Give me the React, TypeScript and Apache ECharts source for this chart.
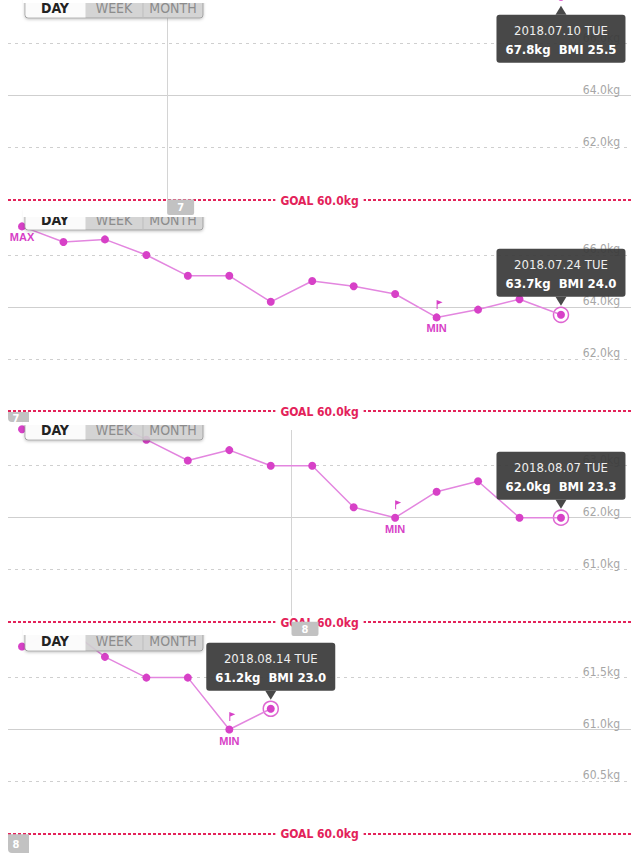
import React, { useEffect, useRef } from "react";
import * as echarts from "echarts";

// ---------------- data ----------------
const days1 = ["06.27", "06.28", "06.29", "06.30", "07.01", "07.02", "07.03", "07.04", "07.05", "07.06", "07.07", "07.08", "07.09", "07.10"];
const weights1: (number | null)[] = [null, null, null, null, null, null, null, null, null, null, null, null, null, 67.8];
const days2 = ["07.11", "07.12", "07.13", "07.14", "07.15", "07.16", "07.17", "07.18", "07.19", "07.20", "07.21", "07.22", "07.23", "07.24"];
const weights2 = [67.1, 66.5, 66.6, 66.0, 65.2, 65.2, 64.2, 65.0, 64.8, 64.5, 63.6, 63.9, 64.3, 63.7];
const days3 = ["07.25", "07.26", "07.27", "07.28", "07.29", "07.30", "07.31", "08.01", "08.02", "08.03", "08.04", "08.05", "08.06", "08.07"];
const weights3 = [63.7, 64.0, 63.9, 63.5, 63.1, 63.3, 63.0, 63.0, 62.2, 62.0, 62.5, 62.7, 62.0, 62.0];
const days4 = ["08.08", "08.09", "08.10", "08.11", "08.12", "08.13", "08.14"];
const weights4 = [61.8, 62.0, 61.7, 61.5, 61.5, 61.0, 61.2];

const ticks1 = [60, 62, 64, 66];
const ticks2 = [60, 62, 64, 66];
const ticks3 = [60, 61, 62, 63];
const ticks4 = [60, 60.5, 61, 61.5];
const goalWeight = 60;

const selDates = ["2018.07.10 TUE", "2018.07.24 TUE", "2018.08.07 TUE", "2018.08.14 TUE"];
const selWeights = [67.8, 63.7, 62.0, 61.2];
const selBmi = [25.5, 24.0, 23.3, 23.0];
const selIndex = [13, 13, 13, 6];

// month boundaries (between day indices) and sticky month tabs
const monthBreakAt = [3.5, null, 6.5, null];
const monthBreakLabel = ["7", "", "8", ""];
const stickyMonth = ["", "7", "", "8"];
const showMax = [false, true, false, false];

const allDays = [days1, days2, days3, days4];
const allWeights = [weights1, weights2, weights3, weights4];
const allTicks = [ticks1, ticks2, ticks3, ticks4];

// ---------------- layout / style ----------------
const FONT = '"Liberation Sans Narrow", "DejaVu Sans Condensed", Roboto, sans-serif';
const BOLDFONT = '"Liberation Sans", Arial, sans-serif';
const DOT = "#d741c7";
const LINE = "#e386df";
const RED = "#e3225a";
const GRID_GRAY = "#cfcfcf";
const LABEL_GRAY = "#a6a6a6";
const BOX = "rgba(58,58,58,0.93)";

const X0 = 22;
const STEP = 41.46;
const LEFT = 8;
const RIGHT = 631;
// the chart canvas starts OFFSET px above the page so that panel 1 can extend above the view
const OFFSET = 24;
const py = (y: number) => y + OFFSET;

// page-pixel layout of the four stacked panels
const LAYOUT = [
  { top: -24, bottom: 214, goalY: 199.5, pxPerKg: 26, ctrlTop: 0, ctrlBottom: 18, monthTopY: -24, tabExtra: 1 },
  { top: 214, bottom: 422, goalY: 411, pxPerKg: 26, ctrlTop: 214, ctrlBottom: 230, monthTopY: 214, tabExtra: 0 },
  { top: 422, bottom: 632, goalY: 621.7, pxPerKg: 52, ctrlTop: 422, ctrlBottom: 440, monthTopY: 430, tabExtra: 4 },
  { top: 632, bottom: 853, goalY: 833.3, pxPerKg: 103.8, ctrlTop: 632, ctrlBottom: 651, monthTopY: 632, tabExtra: 0 },
];

function buildOption() {
  const grid: any[] = [];
  const xAxis: any[] = [];
  const yAxis: any[] = [];
  const series: any[] = [];
  const graphic: any[] = [];

  LAYOUT.forEach((l, i) => {
    const yMax = goalWeight + (l.goalY - l.top) / l.pxPerKg;
    const yMin = goalWeight - (l.bottom - l.goalY) / l.pxPerKg;
    grid.push({ left: LEFT, width: RIGHT - LEFT, top: py(l.top), height: l.bottom - l.top });
    xAxis.push({ type: "value", gridIndex: i, min: (LEFT - X0) / STEP, max: (RIGHT - X0) / STEP, show: false });
    yAxis.push({ type: "value", gridIndex: i, min: yMin, max: yMax, show: false });

    const ticks = allTicks[i];
    const mlData: any[] = [];
    ticks.forEach((t, k) => {
      if (t === goalWeight) return;
      mlData.push({
        yAxis: t,
        lineStyle: { color: GRID_GRAY, width: 1, type: k === 2 ? "solid" : [3, 4] },
        label: {
          show: true, position: "insideEndTop", formatter: `${t.toFixed(1)}kg`,
          color: LABEL_GRAY, fontSize: 12, fontFamily: FONT, distance: [11, 0],
        },
      });
    });
    mlData.push({
      yAxis: goalWeight,
      lineStyle: { color: RED, width: 2, type: [3, 2] },
      label: {
        show: true, position: "middle", formatter: `GOAL ${goalWeight.toFixed(1)}kg`,
        color: RED, fontWeight: "bold", fontSize: 12, fontFamily: FONT,
        backgroundColor: "#fff", padding: [1, 5], distance: [0, -8],
      },
    });
    mlData.push({
      yAxis: goalWeight,
      lineStyle: { opacity: 0, width: 0 },
      label: {
        show: true, position: "insideEndTop", formatter: `${goalWeight.toFixed(1)}kg`,
        color: LABEL_GRAY, fontSize: 12, fontFamily: FONT, distance: [11, 0],
      },
    });
    const mb = monthBreakAt[i];
    if (mb !== null) {
      const topVal = goalWeight + (l.goalY - l.monthTopY) / l.pxPerKg;
      mlData.push([
        { coord: [mb, topVal], lineStyle: { color: "#d4d4d4", width: 1, type: "solid" }, label: { show: false } },
        { coord: [mb, goalWeight] },
      ]);
    }

    const mpData: any[] = [];
    if (i > 0) {
      if (showMax[i]) {
        mpData.push({
          type: "max", symbol: "circle", symbolSize: 1, itemStyle: { color: "rgba(0,0,0,0)" },
          label: { show: true, position: "bottom", distance: 5, formatter: "MAX", color: DOT, fontWeight: "bold", fontSize: 11, fontFamily: BOLDFONT },
        });
      }
      mpData.push({
        type: "min", symbol: "circle", symbolSize: 1, itemStyle: { color: "rgba(0,0,0,0)" },
        label: { show: true, position: "bottom", distance: 5, formatter: "MIN", color: DOT, fontWeight: "bold", fontSize: 11, fontFamily: BOLDFONT },
      });
      mpData.push({
        type: "min", symbol: "path://M0,0L6,2.5L1,5L1,10L0,10Z", symbolSize: [6, 9], symbolOffset: [3, -13],
        itemStyle: { color: DOT }, label: { show: false },
      });
    }

    series.push({
      type: "line", name: `panel${i + 1}`, xAxisIndex: i, yAxisIndex: i, clip: true, z: 3, silent: true,
      data: allWeights[i].map((v, j) => ({ name: allDays[i][j], value: [j, v] })),
      symbol: "circle", symbolSize: 8, showSymbol: true, connectNulls: false,
      itemStyle: { color: DOT }, lineStyle: { color: LINE, width: 1.5 },
      markLine: { silent: true, symbol: "none", z: 1, data: mlData },
      markPoint: { silent: true, data: mpData },
    });

    const above = i > 0;
    const sx = selIndex[i];
    const sw = selWeights[i];
    series.push({
      type: "scatter", name: `selected${i + 1}`, xAxisIndex: i, yAxisIndex: i, clip: false, z: 2, silent: true,
      data: [[sx, sw]],
      symbol: "circle", symbolSize: above ? 15 : 0,
      itemStyle: { color: "#fff", borderColor: DOT, borderWidth: 1.5 },
      markPoint: {
        silent: true, z: 8,
        data: [{
          coord: [sx, sw],
          symbol: above ? "path://M0,0L10,0L5,9Z" : "path://M5,0L10,9L0,9Z",
          symbolSize: [11, 9], symbolOffset: [0, above ? -13.5 : 13.5],
          itemStyle: { color: BOX },
          label: {
            show: true, position: above ? "top" : "bottom", distance: 0,
            formatter: `{d|${selDates[i]}}\n{w|${sw.toFixed(1)}kg\u00a0\u00a0BMI ${selBmi[i].toFixed(1)}}`,
            backgroundColor: BOX, borderRadius: 3, padding: [6, 0, 4, 0], width: 129, align: "center",
            rich: {
              d: { fontSize: 13, lineHeight: 19, color: "#eeeeee", fontFamily: FONT, align: "center" },
              w: { fontSize: 13, lineHeight: 19, color: "#ffffff", fontWeight: "bold", fontFamily: FONT, align: "center" },
            },
          },
        }],
      },
    });

    // DAY / WEEK / MONTH control
    const B = py(l.ctrlBottom);
    const T = py(l.ctrlTop) - 6;
    graphic.push({
      type: "group", z: 50, children: [
        { type: "rect", z: 50, shape: { x: 25, y: T, width: 178, height: B - T, r: 3 },
          style: { fill: "#d3d3d3", stroke: "#9c9c9c", lineWidth: 1, opacity: 0.88, shadowBlur: 3, shadowColor: "rgba(0,0,0,0.25)", shadowOffsetY: 1 } },
        { type: "rect", z: 51, shape: { x: 25.5, y: T, width: 60, height: B - T - 0.5, r: [0, 0, 0, 3] },
          style: { fill: "#ffffff", opacity: 0.9 } },
        { type: "line", z: 51, shape: { x1: 143, y1: T, x2: 143, y2: B }, style: { stroke: "#bdbdbd", lineWidth: 1 } },
        { type: "text", z: 52, x: 55, y: B - 3.5, style: { text: "DAY", fill: "#222", font: `bold 14px ${FONT}`, textAlign: "center", textVerticalAlign: "bottom" } },
        { type: "text", z: 52, x: 114, y: B - 3.5, style: { text: "WEEK", fill: "#8c8c8c", font: `14px ${FONT}`, textAlign: "center", textVerticalAlign: "bottom" } },
        { type: "text", z: 52, x: 173, y: B - 3.5, style: { text: "MONTH", fill: "#8c8c8c", font: `14px ${FONT}`, textAlign: "center", textVerticalAlign: "bottom" } },
      ],
    });
    // the panel above hides the top of this control
    graphic.push({ type: "rect", z: 60, shape: { x: 23, y: py(l.ctrlTop) - 8, width: 183, height: 11 }, style: { fill: "#ffffff" } });

    // month tabs
    if (mb !== null) {
      const tx = X0 + mb * STEP;
      graphic.push({ type: "rect", z: 70, shape: { x: tx, y: py(l.goalY), width: 27, height: l.bottom - l.goalY + l.tabExtra, r: [0, 0, 2, 2] }, style: { fill: "#c2c2c2" } });
      graphic.push({ type: "text", z: 71, x: tx + 13.5, y: py(l.goalY) + 8, style: { text: monthBreakLabel[i], fill: "#fff", font: `bold 11px ${FONT}`, textAlign: "center", textVerticalAlign: "middle" } });
    }
    if (stickyMonth[i]) {
      const h = l.bottom - l.goalY - 1;
      graphic.push({ type: "rect", z: 70, shape: { x: 8, y: py(l.goalY) + 1, width: 21, height: h, r: [0, 0, 0, 4] }, style: { fill: "#c2c2c2" } });
      graphic.push({ type: "text", z: 71, x: 16, y: py(l.goalY) + 1 + h / 2 + 1, style: { text: stickyMonth[i], fill: "#fff", font: `bold 11px ${FONT}`, textAlign: "center", textVerticalAlign: "middle" } });
    }
  });

  return { animation: false, backgroundColor: "#ffffff", grid, xAxis, yAxis, series, graphic };
}

export default function App() {
  const ref = useRef<HTMLDivElement>(null);
  useEffect(() => {
    if (!ref.current) return;
    const chart = echarts.init(ref.current, undefined, { renderer: "svg" });
    chart.setOption(buildOption() as any);
    return () => chart.dispose();
  }, []);
  return (
    <div
      ref={ref}
      style={{ position: "absolute", left: 0, top: -OFFSET, width: 640, height: 853 + OFFSET, background: "#fff" }}
    />
  );
}
